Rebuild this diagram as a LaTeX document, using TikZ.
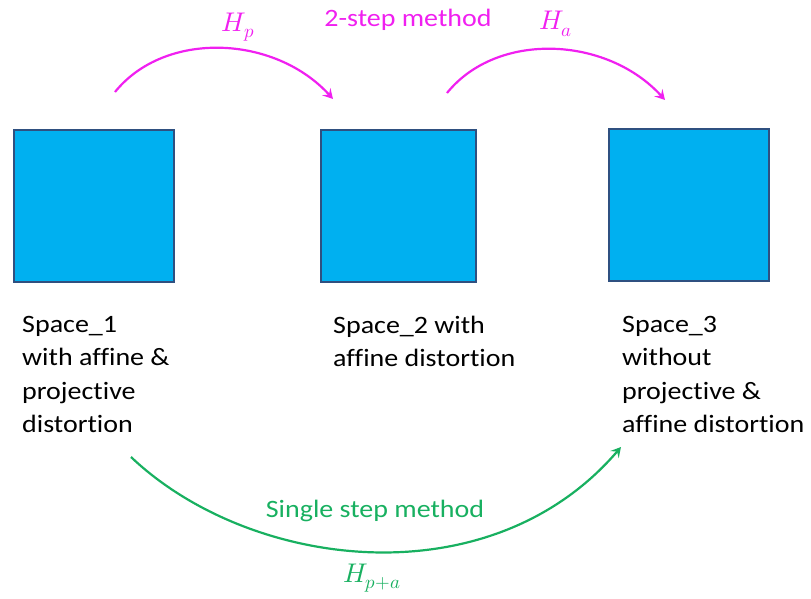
\documentclass[tikz,border=0pt]{standalone}
\usepackage{fontspec}
\usepackage{unicode-math}
\setmainfont{Carlito}[Ligatures=NoCommon,FakeStretch=1.12]
\setmathfont{Latin Modern Math}
\usetikzlibrary{arrows.meta}
\definecolor{boxfill}{HTML}{00B0F0}
\definecolor{boxline}{HTML}{2F5080}
\definecolor{mag}{HTML}{F020F0}
\definecolor{grn}{HTML}{18B060}
\begin{document}
\begin{tikzpicture}[x=1pt,y=-1pt,
  space/.style={draw=boxline,line width=1.5pt,fill=boxfill,minimum width=#1,minimum height=152pt,inner sep=0pt,anchor=north west},
  lbl/.style={anchor=north west,align=left,font=\fontsize{25}{33.3}\selectfont,inner sep=0pt},
  arr/.style={line width=2.2pt,-{Stealth[length=10pt,width=11pt,inset=4pt]}},
  mtxt/.style={font=\fontsize{25}{30}\selectfont,inner sep=0pt},
  math/.style={font=\fontsize{27}{30}\selectfont,inner sep=0pt}]
\useasboundingbox (0,0) rectangle (811,598);
\node[space=160pt] (s1) at (13,129) {};
\node[space=155pt] (s2) at (320,129) {};
\node[space=160pt] (s3) at (608,128) {};
\node[lbl] (t1) at (22,316) {Space\_1\\with affine \&\\projective\\distortion};
\node[lbl] (t2) at (333,316) {Space\_2 with\\affine distortion};
\node[lbl] (t3) at (622,316) {Space\_3\\without\\projective \&\\affine distortion};
\coordinate (a1s) at (115,92);
\coordinate (a1e) at (333,99);
\coordinate (a2s) at (447,93);
\coordinate (a2e) at (665,100);
\coordinate (gs) at (131,457);
\coordinate (ge) at (621,447);
\draw[arr,mag] (a1s) .. controls (165,30) and (275,35) .. (a1e);
\draw[arr,mag] (a2s) .. controls (497,31) and (607,36) .. (a2e);
\draw[arr,grn] (gs) .. controls (250,570) and (490,600) .. (ge);
\node[math,text=mag] (hp) at (238,27) {$H_p$};
\node[mtxt,text=mag] (two) at (408,20) {2-step method};
\node[math,text=mag] (ha) at (556,24) {$H_a$};
\node[mtxt,text=grn] (single) at (375,511) {Single step method};
\node[math,text=grn] (hpa) at (372,578) {$H_{p+a}$};
\end{tikzpicture}
\end{document}
